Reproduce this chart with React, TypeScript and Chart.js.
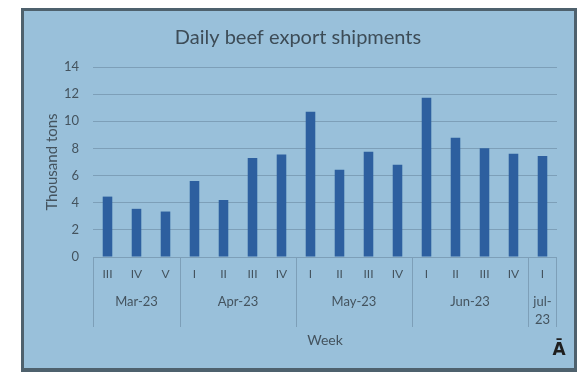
import React, { useEffect, useRef } from 'react';
import { Chart, registerables } from 'chart.js';

Chart.register(...registerables);

const title = 'Daily beef export shipments';
const weekLabels = ['III', 'IV', 'V', 'I', 'II', 'III', 'IV', 'I', 'II', 'III', 'IV', 'I', 'II', 'III', 'IV', 'I'];
const monthLabels = ['Mar-23', 'Apr-23', 'May-23', 'Jun-23', 'jul-23'];
const monthSpans = [3, 4, 4, 4, 1];
const shipments = [4.45, 3.55, 3.35, 5.6, 4.2, 7.3, 7.55, 10.7, 6.42, 7.75, 6.79, 11.73, 8.78, 8.02, 7.6, 7.45];
const yTitle = 'Thousand tons';
const xTitle = 'Week';
const cornerMark = 'Ā';

const FONT = 'Lato, "Open Sans", sans-serif';
const TEXT = '#44535e';
const GRID = '#7d9fb8';

const decorPlugin = {
  id: 'decor',
  beforeDraw(chart: any) {
    const ctx = chart.ctx;
    ctx.save();
    ctx.fillStyle = '#ffffff';
    ctx.fillRect(0, 0, chart.width, chart.height);
    ctx.fillStyle = '#4e616d';
    ctx.fillRect(21, 8, 556, 364);
    ctx.fillStyle = '#99c0da';
    ctx.fillRect(24, 11, 550, 357);
    ctx.restore();
  },
  afterDraw(chart: any) {
    const ctx = chart.ctx;
    const x = chart.scales.x;
    const area = chart.chartArea;
    const n = weekLabels.length;
    const cw = (x.right - x.left) / n;
    ctx.save();
    // title
    ctx.fillStyle = '#3d4c57';
    ctx.font = `20px ${FONT}`;
    ctx.textAlign = 'center';
    ctx.textBaseline = 'middle';
    ctx.fillText(title, 298, 38);
    // y title
    ctx.save();
    ctx.translate(52, (area.top + area.bottom) / 2);
    ctx.rotate(-Math.PI / 2);
    ctx.font = `15px ${FONT}`;
    ctx.fillStyle = TEXT;
    ctx.fillText(yTitle, 0, 0);
    ctx.restore();
    // separators and month labels
    ctx.strokeStyle = GRID;
    ctx.lineWidth = 1;
    let idx = 0;
    const bottomY = area.bottom + 70;
    for (let m = 0; m < monthLabels.length; m++) {
      const start = x.getPixelForValue(idx) - cw / 2;
      const end = x.getPixelForValue(idx + monthSpans[m] - 1) + cw / 2;
      ctx.beginPath();
      ctx.moveTo(Math.round(start) + 0.5, area.bottom);
      ctx.lineTo(Math.round(start) + 0.5, bottomY);
      ctx.stroke();
      if (m === monthLabels.length - 1) {
        ctx.beginPath();
        ctx.moveTo(Math.round(end) - 0.5, area.bottom);
        ctx.lineTo(Math.round(end) - 0.5, bottomY);
        ctx.stroke();
      }
      ctx.font = `13px ${FONT}`;
      ctx.fillStyle = TEXT;
      const cx = (start + end) / 2;
      const label = monthLabels[m];
      if (ctx.measureText(label).width > end - start - 4) {
        const k = label.indexOf('-');
        ctx.fillText(label.slice(0, k + 1), cx, 302);
        ctx.fillText(label.slice(k + 1), cx, 320);
      } else {
        ctx.fillText(label, cx, 302);
      }
      idx += monthSpans[m];
    }
    // x title
    ctx.font = `14px ${FONT}`;
    ctx.fillText(xTitle, (area.left + area.right) / 2, 340);
    // corner mark
    ctx.font = `bold 17px "DejaVu Sans", sans-serif`;
    ctx.fillStyle = '#1e1e1e';
    ctx.fillText(cornerMark, 559, 351);
    ctx.restore();
  },
};

export default function App() {
  const ref = useRef<HTMLCanvasElement>(null);
  useEffect(() => {
    document.body.style.margin = '0';
    const chart = new Chart(ref.current!, {
      type: 'bar',
      data: {
        labels: weekLabels,
        datasets: [
          {
            data: shipments,
            backgroundColor: '#2d5f9f',
            categoryPercentage: 1,
            barPercentage: 0.33,
          },
        ],
      },
      options: {
        animation: false,
        responsive: false,
        devicePixelRatio: 1,
        layout: { padding: { left: 0, right: 26, top: 67, bottom: 0 } },
        plugins: { legend: { display: false }, tooltip: { enabled: false }, title: { display: false } },
        scales: {
          x: {
            afterFit(s: any) {
              s.height = 115;
            },
            grid: { display: false, drawTicks: false },
            border: { display: false },
            ticks: {
              font: { family: FONT, size: 12 },
              color: TEXT,
              padding: 10,
              maxRotation: 0,
              autoSkip: false,
            },
          },
          y: {
            afterFit(s: any) {
              s.width = 93;
            },
            min: 0,
            max: 14,
            grid: { color: GRID, drawTicks: false },
            border: { display: false },
            ticks: {
              stepSize: 2,
              font: { family: FONT, size: 13 },
              color: TEXT,
              padding: 14,
            },
          },
        },
      },
      plugins: [decorPlugin],
    });
    return () => chart.destroy();
  }, []);
  return (
    <div style={{ position: 'absolute', left: 0, top: 0, width: 583, height: 372 }}>
      <canvas ref={ref} width={583} height={372} style={{ display: 'block', width: 583, height: 372 }} />
    </div>
  );
}
